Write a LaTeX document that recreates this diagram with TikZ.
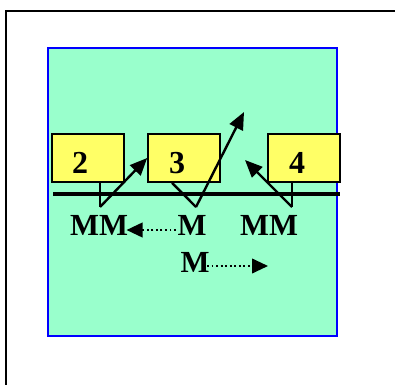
\documentclass[tikz,border=0pt]{standalone}
\usepackage{fontspec}
\setmainfont{Liberation Serif}
\definecolor{busgreen}{RGB}{153,255,204}
\definecolor{unityellow}{RGB}{255,255,102}
\definecolor{edgeblue}{RGB}{0,0,255}
\usetikzlibrary{arrows.meta, positioning, calc}

\begin{document}
\begin{tikzpicture}[x=0.75pt, y=-0.75pt,
  unit/.style={draw, line width=1.2pt, fill=unityellow, minimum width=54pt, minimum height=36pt, inner sep=0pt},
  num/.style={font=\fontsize{24}{26}\selectfont\bfseries, inner sep=0pt},
  msg/.style={font=\fontsize{23}{25}\selectfont\bfseries, inner sep=1pt},
  link/.style={line width=1.8pt},
  jump/.style={line width=1.8pt, -{Triangle[length=13pt,width=11pt]}},
  hop/.style={line width=1.4pt, dotted, -{Triangle[length=12pt,width=11pt]}},
]
  \useasboundingbox (0,0) rectangle (395,385);
  % frame
  \draw[line width=1.8pt] (395,11) -- (6,11) -- (6,385);
  \draw[draw=edgeblue, line width=1.2pt, fill=busgreen] (48,48) rectangle (337,336);

  % units
  \node[unit] (b2) at (88,158) {};
  \node[unit] (b3) at (184,158) {};
  \node[unit] (b4) at (304,158) {};
  \node[num] at ($(b2.center)+(-8,5)$) {2};
  \node[num] at ($(b3.center)+(-7,5)$) {3};
  \node[num] at ($(b4.center)+(-7,5)$) {4};

  % bus
  \draw[line width=2.6pt] (53,194) -- (340,194);

  \coordinate (v2) at (100,207);
  \coordinate (v3) at (196,207);
  \coordinate (v4) at (292,207);
  \coordinate (t3) at (244,112);
  \coordinate (t4) at (245,160);

  \draw[link] (b2.south -| v2) -- (v2);
  \draw[jump] (v2) -- (b3.west);
  \draw[link] ($(b3.south)+(-12,0)$) -- (v3);
  \draw[jump] (v3) -- (t3);
  \draw[link] (b4.south -| v4) -- (v4);
  \draw[jump] (v4) -- (t4);

  % messages
  \node[msg] (mm1) at (99,225) {MM};
  \node[msg] (m1)  at (192,225) {M};
  \node[msg] (mm2) at (269,225) {MM};
  \node[msg] (m2)  at (195,262) {M};
  \coordinate (e2) at (268,266);

  \draw[hop] ($(m1.west)+(0,5)$) -- ($(mm1.east)+(-3,5)$);
  \draw[hop] ($(m2.east)+(-4,4)$) -- (e2);
\end{tikzpicture}
\end{document}
